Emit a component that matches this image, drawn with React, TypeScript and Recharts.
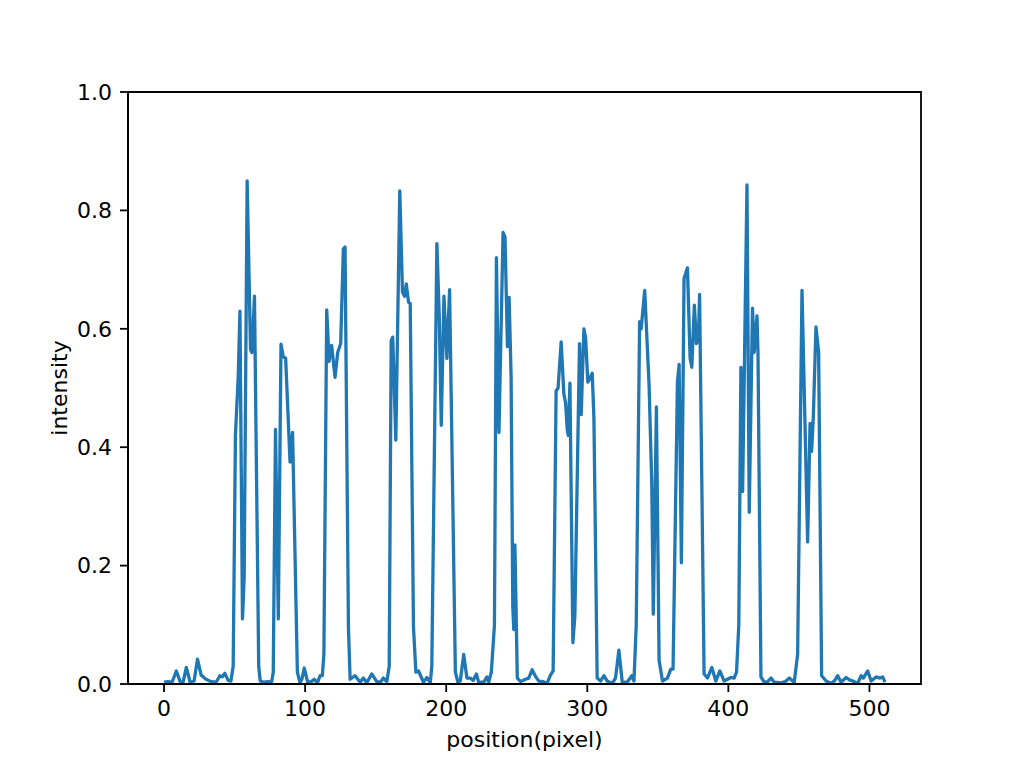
import React from "react";
import { LineChart, Line, XAxis, YAxis, ReferenceArea } from "recharts";

// Vertices of the intensity profile (position in pixels, intensity)
const positions: number[] = [
  0, 2.8, 5.7, 8.7, 11.4, 13.5, 15.8, 18.5, 21.3, 23.7, 26.3, 29.8, 33.4, 36.9, 39.6, 41.2, 43.1, 45.5, 47.4,
  49.0, 50.6, 52.6, 53.8, 55.6, 56.8, 58.9, 61.3, 62.3, 64.1, 67.1, 68.2, 71, 73.9, 76.2,
  77.4, 79.0, 81.0, 82.9, 84.5, 86.2, 89.3, 91.1, 94.5, 96.4, 97.7, 99.4, 101.8, 104.4, 106.5, 108.7, 110.6, 112.2,
  113.3, 115.3, 117.0, 118.8, 121.2, 123.1, 125.2, 127.1, 128.3, 130.7, 131.9, 135.4, 139, 141.3, 143.7, 147.2, 150.8,
  153.4, 155.5, 157.9, 159.6, 161.0, 162.1, 164.3, 167.1, 169.0, 170.5, 171.7, 173.3, 174.5, 176.8, 178.5, 180.4,
  183.9, 186.3, 188.7, 189.8, 193.4, 195.1, 196.5, 198.4, 200.5, 202.4, 206.5, 208.3, 210, 212.4, 214.7, 217.1,
  219.1, 221.4, 223, 226.6, 228.9, 230.1, 232, 234.2, 235.6, 237.4, 240.3, 241.7, 243.4, 244.6, 246, 247.2, 247.9,
  248.7, 250.4, 252.8, 256.2, 258.5, 260.9, 263.5, 265.6, 268.5, 271.5, 273.9, 275.8, 277.9, 279.3, 281.5, 283.4,
  284.6, 285.8, 286.5, 287.7, 289.8, 291.2, 294.5, 295.7, 297.6, 298.8, 300.4, 301.6, 303.5, 304.7, 307, 309.4,
  311.8, 314.1, 317.7, 320, 322.4, 324.8, 328.3, 331.5, 333.1, 334.7, 337.1, 338.2, 340.7, 343.8, 345.7, 346.8,
  349, 350.9, 353.3, 356.8, 359.2, 360.8, 363.9, 365.1, 366.7, 368.6, 371, 372.9, 374.1, 375.9, 377.4, 378.8,
  379.6, 382.8, 385.2, 388.3, 391.1, 394, 397, 399.4, 401.8, 404.1, 405.8, 407.4, 408.9, 410.1, 413.2, 414.8,
  417.1, 418.3, 420.3, 421, 423.1, 425.4, 427.9, 430.2, 432.5, 437.3, 440.3, 443.2, 446.7, 449.1, 452.2, 456.2,
  457.9, 459, 460.2, 462.1, 464, 466.1, 469.3, 472.8, 475.1, 477.5, 479.9, 483.5, 485.8, 488.2, 491.7, 494.1,
  495.7, 498.8, 501.2, 504.7, 507.5, 509.4, 511,
];

const intensity: number[] = [
  0.003, 0.004, 0.003, 0.022, 0.004, 0.003, 0.028, 0.003, 0.005, 0.042, 0.015, 0.008, 0.004, 0.003, 0.014, 0.012, 0.018, 0.006, 0.005,
  0.03, 0.42, 0.52, 0.63, 0.11, 0.18, 0.85, 0.565, 0.56, 0.655, 0.03, 0.005, 0.003, 0.004, 0.003,
  0.02, 0.43, 0.11, 0.574, 0.553, 0.55, 0.375, 0.425, 0.02, 0.002, 0.008, 0.027, 0.003, 0.004, 0.008, 0.002, 0.014, 0.014,
  0.05, 0.632, 0.545, 0.572, 0.518, 0.56, 0.575, 0.735, 0.738, 0.095, 0.008, 0.014, 0.003, 0.01, 0.002, 0.017, 0.004,
  0.003, 0.01, 0.004, 0.03, 0.58, 0.586, 0.412, 0.833, 0.662, 0.655, 0.676, 0.645, 0.643, 0.096, 0.02, 0.022,
  0.003, 0.011, 0.002, 0.03, 0.744, 0.62, 0.437, 0.655, 0.55, 0.666, 0.02, 0.003, 0.005, 0.05, 0.01, 0.01,
  0.006, 0.017, 0.003, 0.003, 0.012, 0.003, 0.02, 0.1, 0.72, 0.425, 0.763, 0.755, 0.57, 0.653, 0.52, 0.13, 0.092,
  0.235, 0.01, 0.004, 0.008, 0.01, 0.024, 0.012, 0.005, 0.004, 0.001, 0.015, 0.022, 0.495, 0.5, 0.578, 0.49,
  0.475, 0.43, 0.42, 0.508, 0.07, 0.115, 0.575, 0.455, 0.6, 0.585, 0.51, 0.515, 0.525, 0.45, 0.01, 0.005,
  0.014, 0.005, 0.001, 0.01, 0.057, 0.003, 0.003, 0.014, 0.005, 0.1, 0.612, 0.6, 0.665, 0.505, 0.34, 0.118,
  0.468, 0.04, 0.005, 0.01, 0.025, 0.025, 0.51, 0.54, 0.205, 0.685, 0.703, 0.55, 0.535, 0.64, 0.575, 0.585,
  0.658, 0.017, 0.01, 0.028, 0.005, 0.022, 0.005, 0.008, 0.011, 0.01, 0.02, 0.1, 0.535, 0.325, 0.843, 0.29,
  0.635, 0.56, 0.622, 0.56, 0.012, 0.003, 0.004, 0.01, 0.003, 0.002, 0.004, 0.01, 0.003, 0.05, 0.665, 0.24,
  0.44, 0.393, 0.45, 0.603, 0.56, 0.014, 0.005, 0.001, 0.005, 0.014, 0.003, 0.011, 0.007, 0.005, 0.001, 0.014,
  0.01, 0.022, 0.005, 0.012, 0.01, 0.012, 0.003,
];

const xTicks: number[] = [0, 100, 200, 300, 400, 500];
const yTicks: number[] = [0, 0.2, 0.4, 0.6, 0.8, 1.0];
const xDomain: [number, number] = [-25.55, 536.55];
const yDomain: [number, number] = [0, 1];

const data = positions.map((x, i) => ({ x, y: intensity[i] }));

const FONT = "'DejaVu Sans', sans-serif";

const YTitle = () => (
  <text
    x={59}
    y={388}
    transform="rotate(-90 59 388)"
    textAnchor="middle"
    dominantBaseline="central"
    fontSize={22}
    fontFamily={FONT}
    fill="#000"
  >
    intensity
  </text>
);

const XTitle = () => (
  <text x={524.5} y={747} textAnchor="middle" fontSize={22} fontFamily={FONT} fill="#000">
    position(pixel)
  </text>
);

export default function App() {
  return (
    <div style={{ position: "absolute", left: 0, top: 0, width: 1024, height: 768, background: "#fff" }}>
      <LineChart width={1024} height={768} data={data} margin={{ top: 92, right: 103, bottom: 21, left: 68 }}>
        <XAxis
          dataKey="x"
          type="number"
          domain={xDomain}
          ticks={xTicks}
          allowDataOverflow
          height={63}
          tickSize={8}
          tickMargin={8}
          tick={{ fill: "#000", fontSize: 22, fontFamily: FONT }}
          tickLine={{ stroke: "#000", strokeWidth: 1.8 }}
          axisLine={{ stroke: "#000", strokeWidth: 1.8 }}
          label={<XTitle />}
        />
        <YAxis
          type="number"
          domain={yDomain}
          ticks={yTicks}
          allowDataOverflow
          width={60}
          tickSize={8}
          tickMargin={8}
          tickFormatter={(v: number) => v.toFixed(1)}
          tick={{ fill: "#000", fontSize: 22, fontFamily: FONT }}
          tickLine={{ stroke: "#000", strokeWidth: 1.8 }}
          axisLine={{ stroke: "#000", strokeWidth: 1.8 }}
          label={<YTitle />}
        />
        <ReferenceArea
          x1={xDomain[0]}
          x2={xDomain[1]}
          y1={yDomain[0]}
          y2={yDomain[1]}
          fill="none"
          fillOpacity={0}
          stroke="#000"
          strokeWidth={1.8}
          strokeOpacity={1}
        />
        <Line
          type="linear"
          dataKey="y"
          stroke="#1f77b4"
          strokeWidth={3.3}
          strokeLinejoin="round"
          dot={false}
          activeDot={false}
          isAnimationActive={false}
        />
      </LineChart>
    </div>
  );
}
